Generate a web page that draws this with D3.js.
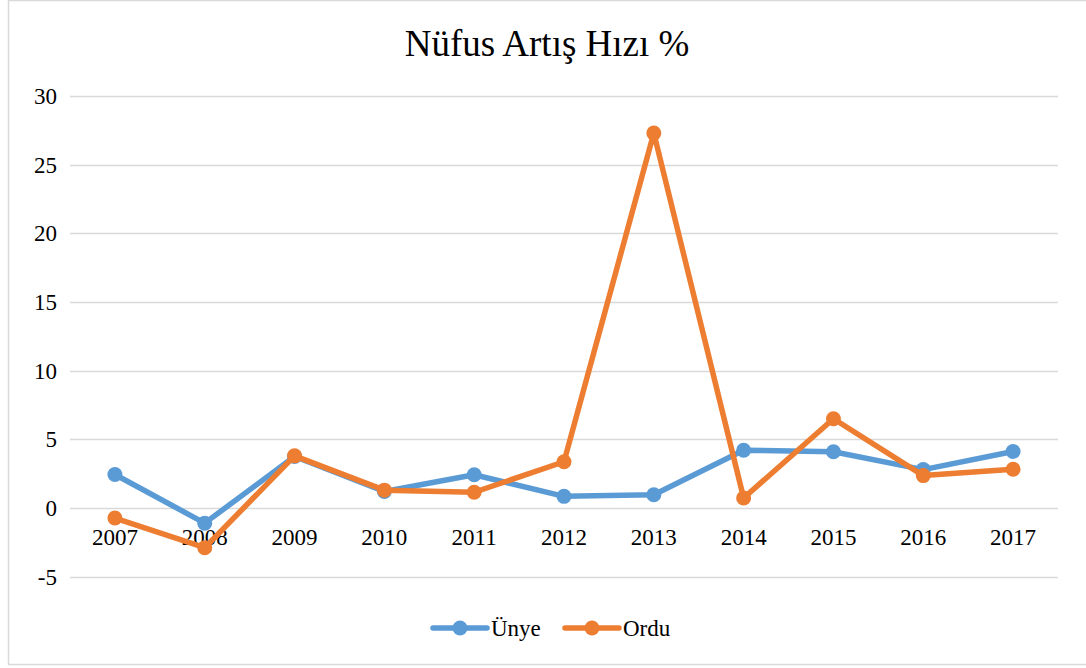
<!DOCTYPE html>
<html>
<head>
<meta charset="utf-8">
<script src="https://cdn.jsdelivr.net/npm/d3@7.9.0/dist/d3.min.js"></script>
<style>
  body { margin: 0; background: #fff; }
  svg text { font-family: "Liberation Serif", "DejaVu Serif", serif; }
</style>
</head>
<body>
<svg id="chart" width="1086" height="668"></svg>
<script>
const years = ['2007', '2008', '2009', '2010', '2011', '2012', '2013', '2014', '2015', '2016', '2017'];
const unye = [2.44, -1.1, 3.75, 1.2, 2.42, 0.85, 0.97, 4.21, 4.1, 2.8, 4.12];
const ordu = [-0.73, -2.89, 3.8, 1.3, 1.15, 3.37, 27.3, 0.73, 6.5, 2.36, 2.82];
const yTicks = [-5, 0, 5, 10, 15, 20, 25, 30];

const series = [
  { name: 'Ünye', values: unye, color: '#5B9BD5' },
  { name: 'Ordu', values: ordu, color: '#ED7D31' }
];

const svg = d3.select('#chart');

// chart area border
svg.append('rect')
  .attr('x', 8.5).attr('y', 0.5)
  .attr('width', 1100).attr('height', 664)
  .attr('fill', 'none').attr('stroke', '#d9d9d9').attr('stroke-width', 1.5);

const x = d3.scaleBand().domain(years).range([70, 1058]);
const y = d3.scaleLinear().domain([-5, 30]).range([576.7, 96]);

// gridlines
svg.append('g')
  .selectAll('line')
  .data(yTicks)
  .join('line')
  .attr('x1', 70).attr('x2', 1058)
  .attr('y1', (d) => Math.round(y(d)) + 0.5)
  .attr('y2', (d) => Math.round(y(d)) + 0.5)
  .attr('stroke', '#d9d9d9').attr('stroke-width', 1.5);

// y tick labels
svg.append('g')
  .selectAll('text')
  .data(yTicks)
  .join('text')
  .attr('x', 57)
  .attr('y', (d) => y(d) + 8)
  .attr('text-anchor', 'end')
  .attr('font-size', 23)
  .attr('fill', '#000')
  .text((d) => d);

// x labels sit just under the zero line
svg.append('g')
  .selectAll('text')
  .data(years)
  .join('text')
  .attr('x', (d) => x(d) + x.bandwidth() / 2)
  .attr('y', y(0) + 37)
  .attr('text-anchor', 'middle')
  .attr('font-size', 23)
  .attr('fill', '#000')
  .text((d) => d);

const line = d3.line()
  .x((d, i) => x(years[i]) + x.bandwidth() / 2)
  .y((d) => y(d));

series.forEach((s) => {
  const g = svg.append('g');
  g.append('path')
    .attr('d', line(s.values))
    .attr('fill', 'none')
    .attr('stroke', s.color)
    .attr('stroke-width', 5.5)
    .attr('stroke-linejoin', 'round')
    .attr('stroke-linecap', 'round');
  g.selectAll('circle')
    .data(s.values)
    .join('circle')
    .attr('cx', (d, i) => x(years[i]) + x.bandwidth() / 2)
    .attr('cy', (d) => y(d))
    .attr('r', 7.5)
    .attr('fill', s.color);
});

// title
svg.append('text')
  .attr('x', 547).attr('y', 56)
  .attr('text-anchor', 'middle')
  .attr('font-size', 37)
  .attr('fill', '#000')
  .text('Nüfus Artış Hızı %');

// legend
const legendX = [433, 565];
series.forEach((s, i) => {
  const g = svg.append('g').attr('transform', `translate(${legendX[i]},628)`);
  g.append('line')
    .attr('x1', 0).attr('x2', 54)
    .attr('stroke', s.color).attr('stroke-width', 5.5).attr('stroke-linecap', 'round');
  g.append('circle').attr('cx', 27).attr('r', 7.5).attr('fill', s.color);
  g.append('text')
    .attr('x', 58).attr('y', 8)
    .attr('font-size', 23)
    .attr('fill', '#000')
    .text(s.name);
});
</script>
</body>
</html>
